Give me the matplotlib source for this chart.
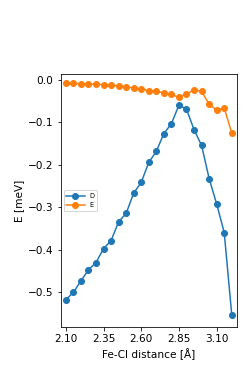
import matplotlib
matplotlib.use("Agg")
import matplotlib.pyplot as plt
import numpy as np

plt.rcParams["font.family"] = ["DejaVu Sans"]
plt.rcParams["font.size"] = 10.5

# Fe-Cl distances in Angstrom
dist = [2.10, 2.15, 2.20, 2.25, 2.30, 2.35, 2.40, 2.45, 2.50, 2.55, 2.60, 2.65,
        2.70, 2.75, 2.80, 2.85, 2.90, 2.95, 3.00, 3.05, 3.10, 3.15, 3.20]

D = [-0.517, -0.500, -0.473, -0.447, -0.430, -0.397, -0.378, -0.334, -0.314,
     -0.266, -0.241, -0.194, -0.168, -0.126, -0.103, -0.059, -0.069, -0.117,
     -0.154, -0.232, -0.292, -0.359, -0.553]

E = [-0.008, -0.008, -0.009, -0.0095, -0.010, -0.011, -0.012, -0.014, -0.016,
     -0.019, -0.021, -0.025, -0.027, -0.030, -0.034, -0.041, -0.033, -0.023,
     -0.027, -0.057, -0.071, -0.066, -0.125]

xticks = [2.10, 2.35, 2.60, 2.85, 3.10]

fig = plt.figure(figsize=(249/72, 374/72), dpi=72)
ax = fig.add_axes([0.243, 0.126, 0.709, 0.675])

ax.plot(dist, D, "o-", label="D")
ax.plot(dist, E, "o-", label="E")

ax.set_xticks(xticks)
ax.set_xticklabels(["%.2f" % t for t in xticks])
ax.set_yticks([0.0, -0.1, -0.2, -0.3, -0.4, -0.5])
ax.set_xlim(2.065, 3.235)
ax.set_ylim(-0.581, 0.013)
ax.set_xlabel("Fe-Cl distance [Å]")
ax.set_ylabel("E [meV]")
ax.legend(loc="center left", fontsize=6.5, handlelength=2.8)

fig.savefig("out.png", dpi=72)
